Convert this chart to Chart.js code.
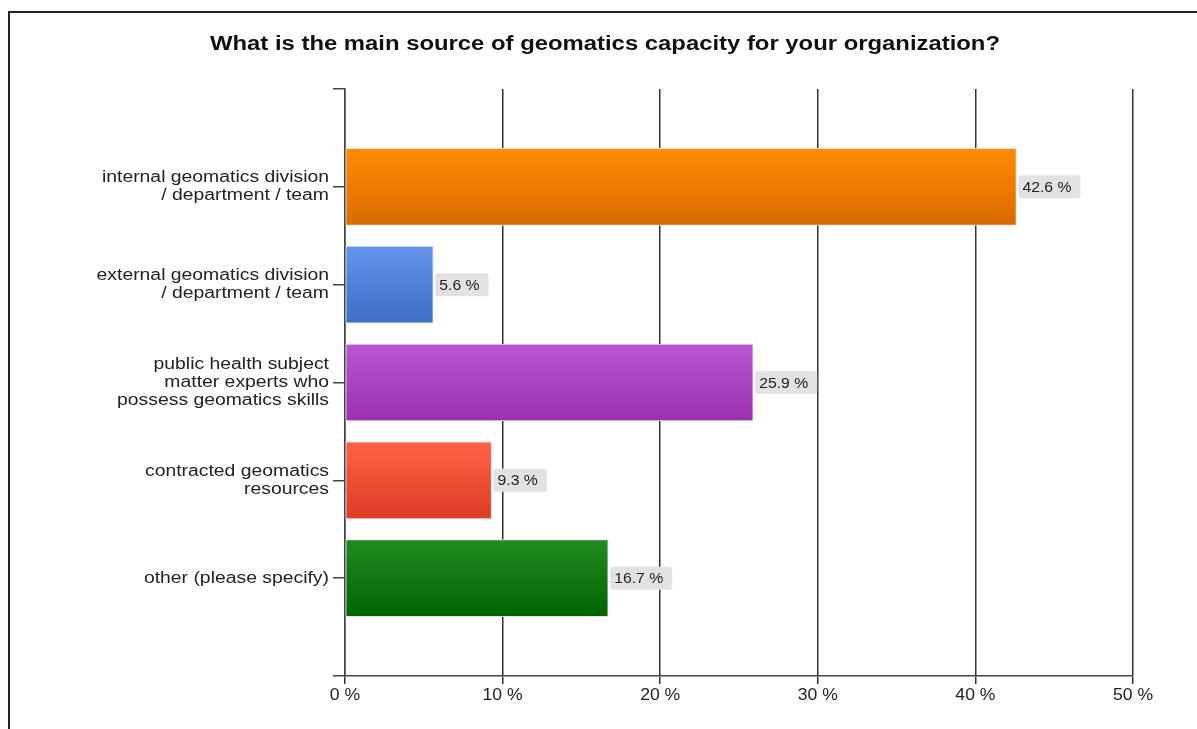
<!DOCTYPE html>
<html>
<head>
<meta charset="utf-8">
<script src="https://cdn.jsdelivr.net/npm/chart.js@4.4.0/dist/chart.umd.min.js"></script>
<style>
  html, body { margin: 0; padding: 0; background: #fff; overflow: hidden; }
  #wrap { position: relative; width: 1197px; height: 729px; }
  #frame { position: absolute; left: 8px; top: 11px; width: 1200px; height: 740px; border: 2px solid #222; box-sizing: border-box; pointer-events: none; }
  canvas { position: absolute; left: 0; top: 0; }
</style>
</head>
<body>
<div id="wrap">
  <canvas id="c" width="1197" height="729"></canvas>
  <div id="frame"></div>
</div>
<script>
const titleText = 'What is the main source of geomatics capacity for your organization?';
const categories = [
  ['internal geomatics division', '/ department / team'],
  ['external geomatics division', '/ department / team'],
  ['public health subject', 'matter experts who', 'possess geomatics skills'],
  ['contracted geomatics', 'resources'],
  ['other (please specify)']
];
const values = [42.6, 5.6, 25.9, 9.3, 16.7];
const topColors = ['#FF8C00', '#6495ED', '#BA55D3', '#FF6347', '#228B22'];
const bottomColors = ['#DA6A00', '#3D6EC8', '#9A32B0', '#DB3B22', '#006400'];
const xTicks = [0, 10, 20, 30, 40, 50];

// pad with empty slots at both ends so bars sit on interior ticks
const labels = [''].concat(categories, ['']);
const data = [null].concat(values, [null]);
const BAR_H = 77;
const FONT = '"Liberation Sans", Arial, sans-serif';

const canvas = document.getElementById('c');
const c2d = canvas.getContext('2d');
// horizontally widened glyphs (the reference renders text wide)
const origFill = c2d.fillText.bind(c2d);
c2d.fillText = function (text, x, y, maxW) {
  let sx = this._sx;
  if (!sx) sx = this.textAlign === 'right' ? 1.21 : (this.textAlign === 'center' ? 1.1 : 1);
  this.save();
  this.translate(x, y);
  this.scale(sx, 1);
  origFill(text, 0, 0);
  this.restore();
};

function gradFor(context, i) {
  const chart = context.chart;
  const ys = chart.scales && chart.scales.y;
  if (!chart.chartArea || !ys || i < 1 || i > values.length) return topColors[Math.max(0, Math.min(values.length - 1, i - 1))];
  const yc = ys.getPixelForValue(i);
  const g = chart.ctx.createLinearGradient(0, yc - BAR_H / 2, 0, yc + BAR_H / 2);
  g.addColorStop(0, topColors[i - 1]);
  g.addColorStop(1, bottomColors[i - 1]);
  return g;
}

const titlePlugin = {
  id: 'customTitle',
  afterDraw(chart) {
    const ctx = chart.ctx;
    ctx.save();
    ctx.font = 'bold 19.5px ' + FONT;
    const w0 = ctx.measureText(titleText).width;
    ctx._sx = 790 / w0;
    ctx.fillStyle = '#111';
    ctx.textAlign = 'left';
    ctx.textBaseline = 'middle';
    ctx.fillText(titleText, 210, 45);
    ctx._sx = 0;
    ctx.restore();
  }
};

const valueLabelPlugin = {
  id: 'valueLabels',
  afterDatasetsDraw(chart) {
    const ctx = chart.ctx;
    const meta = chart.getDatasetMeta(0);
    const sx = 1.05;
    ctx.save();
    ctx.font = '15px ' + FONT;
    ctx.textBaseline = 'middle';
    ctx.textAlign = 'left';
    meta.data.forEach((el, i) => {
      const v = data[i];
      if (v === null || v === undefined) return;
      const txt = v.toFixed(1) + ' %';
      const w = ctx.measureText(txt).width * sx + 13;
      const x = el.x + 2;
      const y = el.y;
      ctx.fillStyle = '#e2e2e2';
      ctx.beginPath();
      if (ctx.roundRect) ctx.roundRect(x, y - 11.5, w, 23, 3); else ctx.rect(x, y - 11.5, w, 23);
      ctx.fill();
      ctx.fillStyle = '#222';
      ctx._sx = sx;
      ctx.fillText(txt, x + 4, y + 1);
      ctx._sx = 0;
    });
    ctx.restore();
  }
};

new Chart(canvas, {
  type: 'bar',
  data: {
    labels: labels,
    datasets: [{
      data: data,
      backgroundColor: (ctx) => gradFor(ctx, ctx.dataIndex),
      borderColor: '#e4e4e4',
      borderWidth: 1,
      borderSkipped: false,
      barThickness: BAR_H
    }]
  },
  options: {
    indexAxis: 'y',
    responsive: false,
    animation: false,
    devicePixelRatio: 1,
    layout: { padding: { top: 89, right: 64, left: 0, bottom: 0 } },
    plugins: {
      legend: { display: false },
      title: { display: false },
      tooltip: { enabled: false }
    },
    scales: {
      x: {
        type: 'linear',
        min: 0,
        max: 50,
        afterBuildTicks(scale) { scale.ticks = xTicks.map(v => ({ value: v })); },
        afterFit(scale) { scale.height = 53; },
        grid: {
          color: '#333',
          lineWidth: 1.5,
          drawOnChartArea: true,
          drawTicks: true,
          tickLength: 8,
          tickColor: '#333'
        },
        border: { display: true, color: '#444', width: 1.5 },
        ticks: {
          callback: (v) => v + ' %',
          color: '#222',
          padding: 2,
          font: { family: FONT, size: 16 },
          maxRotation: 0
        }
      },
      y: {
        type: 'category',
        offset: false,
        afterFit(scale) { scale.width = 345; },
        grid: {
          display: true,
          offset: false,
          drawOnChartArea: false,
          drawTicks: true,
          tickLength: 12,
          tickColor: '#444',
          lineWidth: 1.5
        },
        border: { display: true, color: '#444', width: 1.5 },
        ticks: {
          color: '#222',
          padding: 4,
          autoSkip: false,
          font: { family: FONT, size: 16, lineHeight: 1.125 }
        }
      }
    }
  },
  plugins: [titlePlugin, valueLabelPlugin]
});
</script>
</body>
</html>
